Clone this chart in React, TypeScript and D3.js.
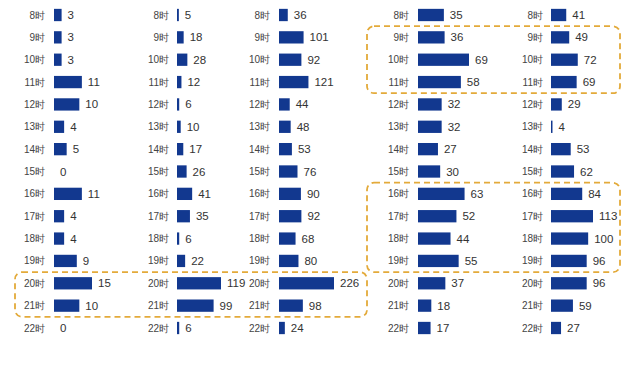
import { useEffect, useRef } from "react";
import * as d3 from "d3";

const hours = ["8时", "9时", "10时", "11时", "12时", "13时", "14时", "15时", "16时", "17时", "18时", "19时", "20时", "21时", "22时"];

const seriesA = [3, 3, 3, 11, 10, 4, 5, 0, 11, 4, 4, 9, 15, 10, 0];
const seriesB = [5, 18, 28, 12, 6, 10, 17, 26, 41, 35, 6, 22, 119, 99, 6];
const seriesC = [36, 101, 92, 121, 44, 48, 53, 76, 90, 92, 68, 80, 226, 98, 24];
const seriesD = [35, 36, 69, 58, 32, 32, 27, 30, 63, 52, 44, 55, 37, 18, 17];
const seriesE = [41, 49, 72, 69, 29, 4, 53, 62, 84, 113, 100, 96, 96, 59, 27];

// highlighted groups: [first hour, last hour, first panel, last panel]
const highlights: [string, string, number, number][] = [
  ["20时", "21时", 0, 2],
  ["9时", "11时", 3, 4],
  ["16时", "19时", 3, 4],
];

const W = 640;
const H = 370;
const BAR = "#12388f";
const DASH = "#e3aa3a";

// layout per panel: label right edge, bar start, width of the longest bar
const panels = [
  { data: seriesA, labelX: 45, x0: 54, w: 38 },
  { data: seriesB, labelX: 169, x0: 177, w: 44 },
  { data: seriesC, labelX: 270, x0: 279, w: 55 },
  { data: seriesD, labelX: 409, x0: 418, w: 51 },
  { data: seriesE, labelX: 543, x0: 551, w: 42 },
];

export default function App() {
  const ref = useRef<SVGSVGElement | null>(null);

  useEffect(() => {
    const svg = d3.select(ref.current);
    svg.selectAll("*").remove();

    const step = (328 - 15) / (hours.length - 1);
    const y = d3
      .scaleBand<string>()
      .domain(hours)
      .range([15 - step / 2, 328 + step / 2])
      .paddingInner(0.45)
      .paddingOuter(0.225);
    const cy = (h: string) => (y(h) as number) + y.bandwidth() / 2;

    svg.append("rect").attr("width", W).attr("height", H).attr("fill", "#fff");

    panels.forEach((p) => {
      const x = d3
        .scaleLinear()
        .domain([0, d3.max(p.data) as number])
        .range([0, p.w]);
      const g = svg.append("g");

      g.selectAll("text.lab")
        .data(hours)
        .join("text")
        .attr("class", "lab")
        .attr("x", p.labelX)
        .attr("y", (d) => cy(d))
        .attr("dy", "0.35em")
        .attr("text-anchor", "end")
        .attr("font-family", "Liberation Sans, Arial, sans-serif")
        .attr("font-size", 10)
        .attr("fill", "#444")
        .text((d) => d);

      g.selectAll("rect")
        .data(p.data)
        .join("rect")
        .attr("x", p.x0)
        .attr("y", (_, i) => y(hours[i]) as number)
        .attr("width", (d) => x(d))
        .attr("height", y.bandwidth())
        .attr("fill", BAR);

      g.selectAll("text.val")
        .data(p.data)
        .join("text")
        .attr("class", "val")
        .attr("x", (d) => p.x0 + x(d) + 6)
        .attr("y", (_, i) => cy(hours[i]))
        .attr("dy", "0.35em")
        .attr("font-family", "Liberation Sans, Arial, sans-serif")
        .attr("font-size", 11.5)
        .attr("fill", "#333")
        .text((d) => d);
    });

    // dashed highlight boxes
    const boxLeft = [15, 15, 15, 367, 367];
    const boxRight = [367, 367, 367, 620, 620];
    const pad = 5;
    svg
      .append("g")
      .selectAll("rect")
      .data(highlights)
      .join("rect")
      .attr("x", (d) => boxLeft[d[2]])
      .attr("y", (d) => (y(d[0]) as number) - pad)
      .attr("width", (d) => boxRight[d[3]] - boxLeft[d[2]])
      .attr("height", (d) => (y(d[1]) as number) + y.bandwidth() - (y(d[0]) as number) + pad * 2)
      .attr("rx", 7)
      .attr("fill", "none")
      .attr("stroke", DASH)
      .attr("stroke-width", 1.8)
      .attr("stroke-dasharray", "6 4");
  }, []);

  return (
    <svg
      ref={ref}
      width={W}
      height={H}
      style={{ position: "absolute", left: 0, top: 0 }}
    />
  );
}
